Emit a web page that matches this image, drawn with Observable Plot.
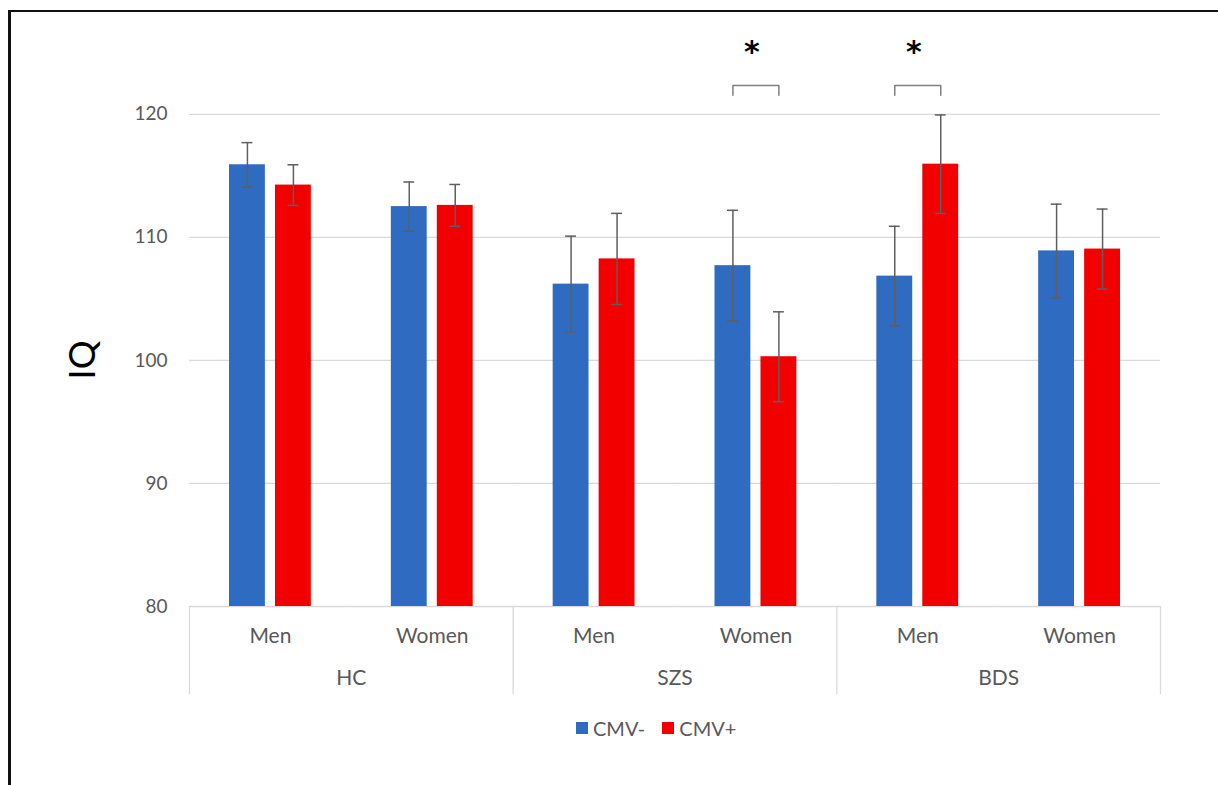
<!DOCTYPE html>
<html>
<head>
<meta charset="utf-8">
<script src="https://cdn.jsdelivr.net/npm/d3@7"></script>
<script src="https://cdn.jsdelivr.net/npm/@observablehq/plot@0.6"></script>
<style>
  html, body { margin: 0; padding: 0; background: #fff; width: 1218px; height: 785px; overflow: hidden; }
  #border { position: absolute; left: 8px; top: 10px; width: 1300px; height: 900px; border-left: 3px solid #111; border-top: 2px solid #111; }
  #chart { position: absolute; left: 0; top: 0; }
  #ylabel { position: absolute; left: 81px; top: 360px; transform: translate(-50%, -50%) rotate(-90deg); font: 36px Lato, sans-serif; color: #000; white-space: nowrap; }
  #legend { position: absolute; left: 576px; top: 716px; display: flex; align-items: center; font: 20px Lato, sans-serif; color: #595959; }
  #legend .sw { width: 12px; height: 12px; display: inline-block; margin-right: 5px; }
  #legend .item { display: flex; align-items: center; margin-right: 17px; }
</style>
</head>
<body>
<div id="border"></div>
<div id="chart"></div>
<div id="ylabel">IQ</div>
<div id="legend"></div>
<script>
// ---- data ----
const groups = ["HC", "SZS", "BDS"];
const sexes = ["Men", "Women"];
const cmvLevels = ["CMV-", "CMV+"];
const cmvColors = ["#2e6bc1", "#f20000"];
// order: HC Men, HC Women, SZS Men, SZS Women, BDS Men, BDS Women
const meanNeg = [115.9, 112.5, 106.2, 107.7, 106.85, 108.9];
const errNeg  = [1.8, 2.0, 3.9, 4.5, 4.05, 3.8];
const meanPos = [114.25, 112.6, 108.25, 100.3, 115.95, 109.05];
const errPos  = [1.65, 1.7, 3.7, 3.65, 4.0, 3.25];
const yTicks = [80, 90, 100, 110, 120];
const yDomain = [80, 126];
// significance annotations
const sigKeys = ["SZS|Women", "BDS|Men"];
const sigLabel = "*";
const bracketLevel = 122.35;
const bracketFoot = 121.55;
const starLevel = 125.0;

// ---- build tables ----
const keys = groups.flatMap(g => sexes.map(s => g + "|" + s));
const rows = [];
keys.forEach((k, i) => {
  rows.push({key: k, cmv: cmvLevels[0], mean: meanNeg[i], err: errNeg[i]});
  rows.push({key: k, cmv: cmvLevels[1], mean: meanPos[i], err: errPos[i]});
});
const bracketPts = sigKeys.flatMap(k => [
  {key: k, cmv: cmvLevels[0], y: bracketFoot},
  {key: k, cmv: cmvLevels[0], y: bracketLevel},
  {key: k, cmv: cmvLevels[1], y: bracketLevel},
  {key: k, cmv: cmvLevels[1], y: bracketFoot}
]);
const sepLeft = groups.map(g => g + "|" + sexes[0]);
const sepRight = groups[groups.length - 1] + "|" + sexes[sexes.length - 1];

const grey = "#595959";
const errColor = "#5f5f5f";
const sepColor = "#d9d9d9";

const sepMarks = sepLeft.map(k => Plot.frame({anchor: "left", fx: () => k, stroke: sepColor, strokeWidth: 1.3, insetTop: 566, insetBottom: -87}));
sepMarks.push(Plot.frame({anchor: "right", fx: () => sepRight, stroke: sepColor, strokeWidth: 1.3, insetTop: 566, insetBottom: -87}));

const chart = Plot.plot({
  width: 1218,
  height: 706,
  marginLeft: 189,
  marginRight: 58,
  marginTop: 40,
  marginBottom: 100,
  style: {fontFamily: "Lato, sans-serif", color: grey, background: "transparent", overflow: "visible"},
  fx: {domain: keys, padding: 0, round: false, label: null},
  x: {domain: cmvLevels, paddingInner: 0.22, paddingOuter: 0.87, round: false, axis: null},
  y: {domain: yDomain, label: null},
  color: {domain: cmvLevels, range: cmvColors},
  marks: [
    Plot.ruleY(yTicks, {stroke: "#d9d9d9", strokeWidth: 1.3}),
    Plot.axisY({ticks: yTicks, tickSize: 0, tickPadding: 22, fontSize: 19, label: null, fill: grey}),
    Plot.barY(rows, {fx: "key", x: "cmv", y1: yDomain[0], y2: "mean", fill: "cmv"}),
    Plot.ruleX(rows, {fx: "key", x: "cmv", y1: d => d.mean - d.err, y2: d => d.mean + d.err, stroke: errColor, strokeWidth: 1.5}),
    Plot.tickY(rows, {fx: "key", x: "cmv", y: d => d.mean - d.err, stroke: errColor, strokeWidth: 1.5, insetLeft: 12.5, insetRight: 12.5}),
    Plot.tickY(rows, {fx: "key", x: "cmv", y: d => d.mean + d.err, stroke: errColor, strokeWidth: 1.5, insetLeft: 12.5, insetRight: 12.5}),
    Plot.line(bracketPts, {fx: "key", x: "cmv", y: "y", z: "key", stroke: "#7f7f7f", strokeWidth: 1.5}),
    Plot.text(sigKeys, {fx: d => d, y: starLevel, frameAnchor: "middle", dx: -4, text: () => sigLabel, fontSize: 30, fontWeight: "bold", fill: "#000", fontFamily: "DejaVu Sans, sans-serif"}),
    Plot.axisFx({anchor: "bottom", tickSize: 0, tickPadding: 22, fontSize: 21, label: null, fill: grey, tickFormat: d => d.split("|")[1]}),
    Plot.text(groups, {fx: g => g + "|" + sexes[1], frameAnchor: "bottom-left", textAnchor: "middle", lineAnchor: "middle", dy: 72, text: d => d, fontSize: 21, fill: grey}),
    ...sepMarks
  ]
});
document.getElementById("chart").appendChild(chart);

// legend
const legend = document.getElementById("legend");
cmvLevels.forEach((c, i) => {
  const item = document.createElement("span");
  item.className = "item";
  const sw = document.createElement("span");
  sw.className = "sw";
  sw.style.background = cmvColors[i];
  item.appendChild(sw);
  item.appendChild(document.createTextNode(c));
  legend.appendChild(item);
});
</script>
</body>
</html>
